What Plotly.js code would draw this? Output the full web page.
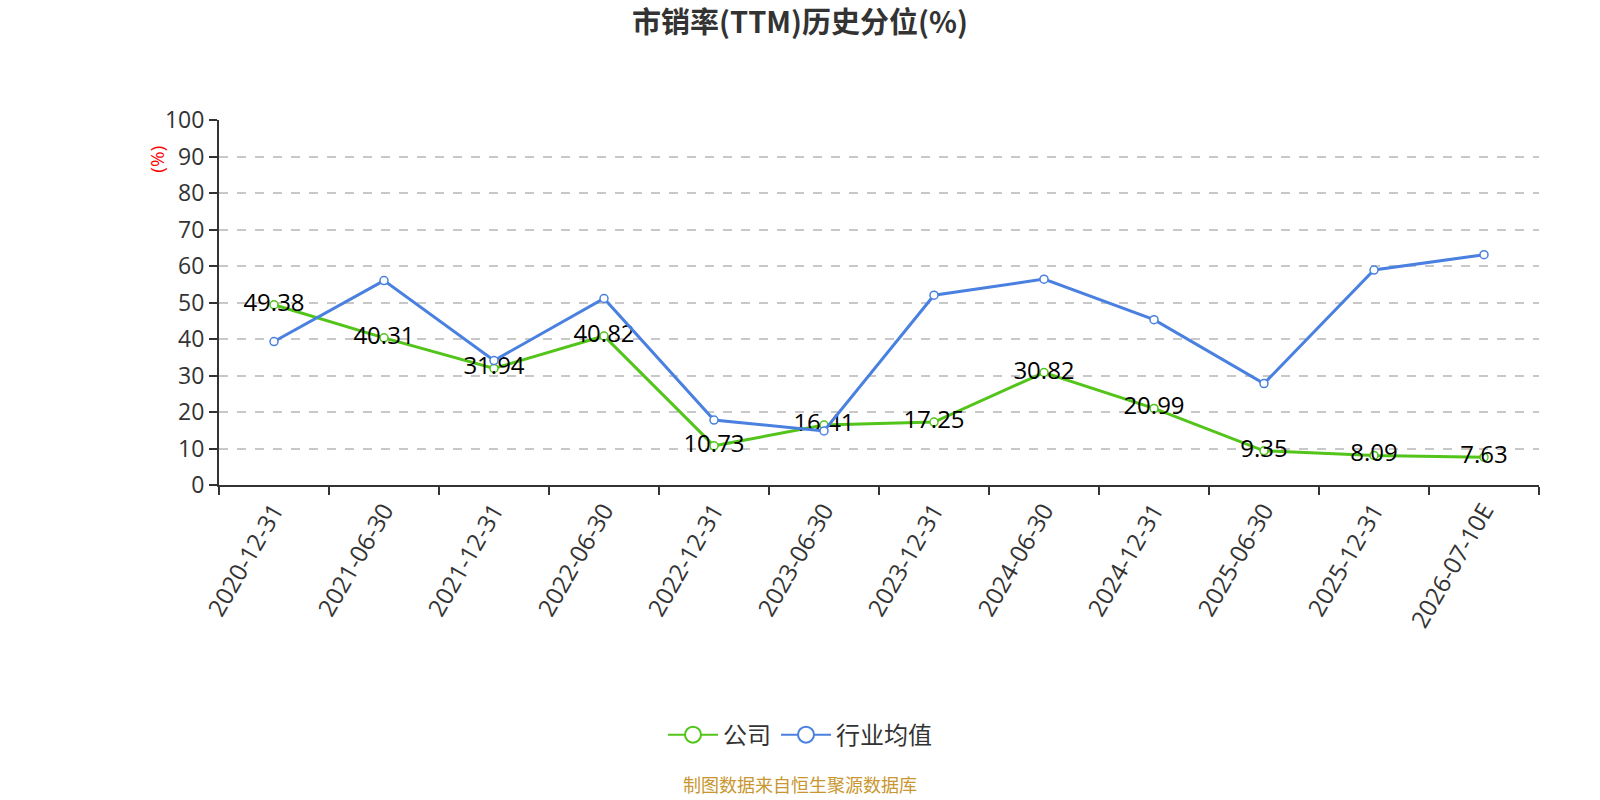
<!DOCTYPE html>
<html>
<head>
<meta charset="utf-8">
<script src="https://cdn.plot.ly/plotly-3.0.1.min.js"></script>
<style>
  html, body { margin: 0; padding: 0; background: #fff; }
  #chart { width: 1600px; height: 800px; }
</style>
</head>
<body>
<div id="chart"></div>
<script>
const dates = [
  "2020-12-31", "2021-06-30", "2021-12-31", "2022-06-30",
  "2022-12-31", "2023-06-30", "2023-12-31", "2024-06-30",
  "2024-12-31", "2025-06-30", "2025-12-31", "2026-07-10E"
];
const companyValues = [49.38, 40.31, 31.94, 40.82, 10.73, 16.41, 17.25, 30.82, 20.99, 9.35, 8.09, 7.63];
const industryValues = [39.3, 56.0, 34.1, 51.1, 17.8, 14.8, 52.0, 56.4, 45.3, 27.8, 58.9, 63.1];

const fontFamily = "'Open Sans', 'Noto Sans CJK SC', sans-serif";
const cjkFamily = "'Noto Sans CJK SC', sans-serif";
const green = "#52c41a";
const blue = "#4a80e0";

// center of the 1600px page, as a fraction of the plot width (l=219, plot width=1320)
const pageCenter = (800 - 219) / 1320;

const companyTrace = {
  x: dates,
  y: companyValues,
  name: "公司",
  legendgroup: "company",
  showlegend: false,
  type: "scatter",
  mode: "lines+markers+text",
  text: companyValues.map((v) => v.toFixed(2)),
  textposition: "middle center",
  textfont: { family: fontFamily, size: 24, color: "#000" },
  line: { color: green, width: 3 },
  marker: { size: 8, color: "#fff", line: { color: green, width: 1.5 } },
  cliponaxis: false,
};

const industryTrace = {
  x: dates,
  y: industryValues,
  name: "行业均值",
  legendgroup: "industry",
  showlegend: false,
  type: "scatter",
  mode: "lines+markers",
  line: { color: blue, width: 3 },
  marker: { size: 8, color: "#fff", line: { color: blue, width: 1.5 } },
  cliponaxis: false,
};

// legend entries only (bigger symbols, like the reference)
const legendTraces = [
  { name: "公司", color: green, group: "company" },
  { name: "行业均值", color: blue, group: "industry" },
].map((s) => ({
  x: [null],
  y: [null],
  name: s.name,
  legendgroup: s.group,
  type: "scatter",
  mode: "lines+markers",
  line: { color: s.color, width: 2 },
  marker: { size: 16, color: "#fff", line: { color: s.color, width: 2 } },
  hoverinfo: "skip",
}));

const layout = {
  width: 1600,
  height: 800,
  margin: { l: 219, r: 61, t: 120, b: 315 },
  paper_bgcolor: "#fff",
  plot_bgcolor: "#fff",
  font: { family: fontFamily, color: "#333" },
  title: {
    text: "<b>市销率(TTM)历史分位(%)</b>",
    x: 0.5,
    xref: "container",
    y: 0.972,
    yanchor: "middle",
    font: { family: cjkFamily, size: 29, color: "#333" },
  },
  xaxis: {
    type: "category",
    range: [-0.5, 11.5],
    tickson: "boundaries",
    ticks: "outside",
    ticklen: 8,
    tickwidth: 2,
    tickcolor: "#333",
    tickangle: -60,
    tickfont: { family: fontFamily, size: 24, color: "#333" },
    showline: true,
    linecolor: "#333",
    linewidth: 2,
    showgrid: false,
    zeroline: false,
  },
  yaxis: {
    range: [0, 100],
    dtick: 10,
    ticks: "outside",
    ticklen: 8,
    tickwidth: 2,
    tickcolor: "#333",
    tickfont: { family: fontFamily, size: 23, color: "#333" },
    showline: true,
    linecolor: "#333",
    linewidth: 2,
    showgrid: true,
    gridcolor: "#c8c8c8",
    griddash: "dash",
    gridwidth: 1.5,
    zeroline: false,
  },
  showlegend: true,
  legend: {
    orientation: "h",
    x: pageCenter,
    xanchor: "center",
    y: -0.685,
    yanchor: "middle",
    font: { family: cjkFamily, size: 24, color: "#333" },
    itemwidth: 50,
  },
  annotations: [
    {
      text: "(%)",
      xref: "paper",
      yref: "paper",
      x: -0.058,
      y: 0.935,
      textangle: -90,
      showarrow: false,
      font: { family: fontFamily, size: 19, color: "#ff0000" },
    },
    {
      text: "制图数据来自恒生聚源数据库",
      xref: "paper",
      yref: "paper",
      x: pageCenter,
      y: -0.82,
      xanchor: "center",
      yanchor: "middle",
      showarrow: false,
      font: { family: cjkFamily, size: 18, color: "#c9962f" },
    },
  ],
};

Plotly.newPlot("chart", [companyTrace, industryTrace, ...legendTraces], layout, { displayModeBar: false });
</script>
</body>
</html>
